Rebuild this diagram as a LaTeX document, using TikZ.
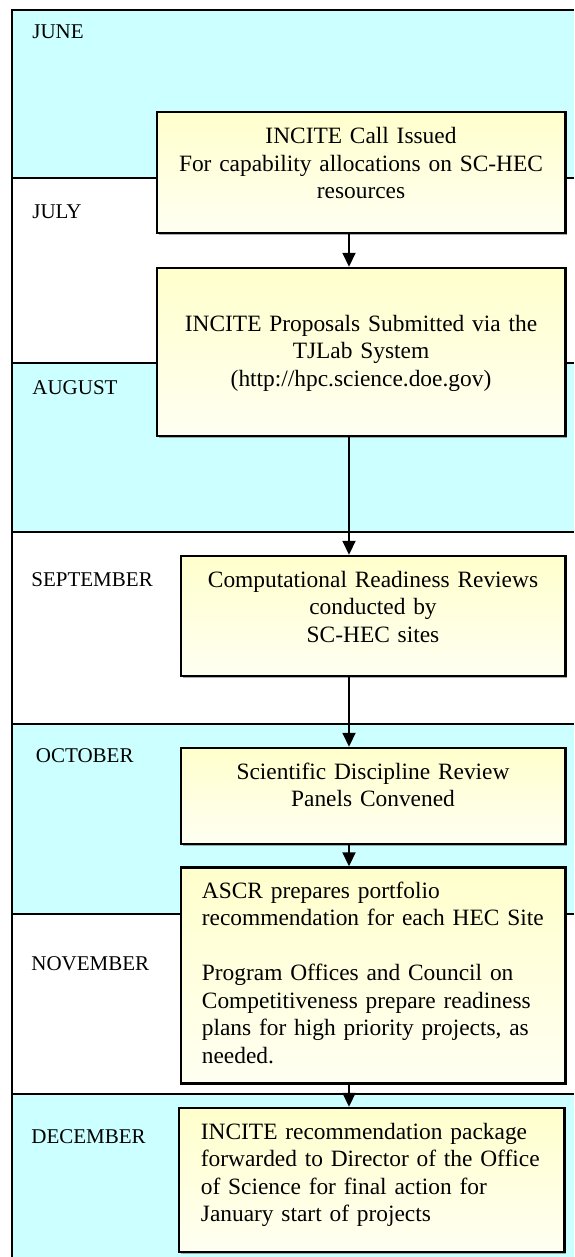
\documentclass[tikz,border=0pt]{standalone}
\usepackage{fontspec}
\setmainfont{Liberation Serif}
\usetikzlibrary{arrows.meta,shadows}
\definecolor{bandcyan}{RGB}{204,255,255}
\definecolor{boxtop}{RGB}{255,255,204}
\definecolor{boxbot}{RGB}{255,255,242}
\tikzset{
  band/.style={fill=bandcyan, draw=none},
  rule/.style={draw=black, line width=1pt},
  stepbox/.style={draw=black, line width=1.2pt, top color=boxtop, bottom color=boxbot,
    inner sep=0pt, drop shadow={shadow xshift=0.8pt, shadow yshift=-0.8pt, fill=black!55, opacity=0.6}},
  boxtext/.style={font=\fontsize{11.7}{13.75}\selectfont, inner sep=0pt, text width=200pt},
  month/.style={font=\fontsize{10.5}{12}\selectfont, anchor=base west, inner sep=0pt},
  arr/.style={draw=black, line width=0.9pt, -{Triangle[length=7pt,width=6.5pt]}},
}
\begin{document}
\begin{tikzpicture}[x=0.5pt, y=-0.5pt]
\useasboundingbox (0,0) rectangle (574,1257);
% month bands
\fill[band] (12,10) rectangle (574,178);
\fill[band] (12,363) rectangle (574,532);
\fill[band] (12,724) rectangle (574,914);
\fill[band] (12,1094) rectangle (574,1257);
\draw[rule] (12,1257) -- (12,10) -- (574,10);
\foreach \yy in {178,363,532,724,914,1094} {\draw[rule] (12,\yy) -- (574,\yy);}
% month labels
\node[month] (jun) at (32,39) {JUNE};
\node[month] (jul) at (32,219) {JULY};
\node[month] (aug) at (32,394) {AUGUST};
\node[month] (sep) at (31,586) {SEPTEMBER};
\node[month] (oct) at (35.5,762) {OCTOBER};
\node[month] (nov) at (31,970) {NOVEMBER};
\node[month] (dec) at (31,1143) {DECEMBER};
% boxes
\node[stepbox, minimum width=204.25pt, minimum height=60.5pt] (b1) at (361.25,172.5) {};
\node[stepbox, minimum width=204.25pt, minimum height=84pt] (b2) at (361.25,352) {};
\node[stepbox, minimum width=192.25pt, minimum height=60pt] (b3) at (373.25,616) {};
\node[stepbox, minimum width=192.25pt, minimum height=48pt] (b4) at (373.25,796) {};
\node[stepbox, minimum width=192.25pt, minimum height=108pt] (b5) at (373.25,975.5) {};
\node[stepbox, minimum width=192.75pt, minimum height=72pt] (b6) at (371.75,1180) {};
% box texts
\node[boxtext, align=center, anchor=base] (t1) at (361,144)
  {INCITE Call Issued\\For capability allocations on SC-HEC\\resources};
\node[boxtext, align=center, anchor=base] (t2) at (361,331)
  {INCITE Proposals Submitted via the\\TJLab System\\(http://hpc.science.doe.gov)};
\node[boxtext, align=center, anchor=base] (t3) at (373,587)
  {Computational Readiness Reviews\\conducted by\\SC-HEC sites};
\node[boxtext, align=center, anchor=base] (t4) at (373,779)
  {Scientific Discipline Review\\Panels Convened};
\node[boxtext, align=left, anchor=base west] (t5) at (201.5,898)
  {ASCR prepares portfolio\\recommendation for each HEC Site\\[13.75pt]Program Offices and Council on\\Competitiveness prepare readiness\\plans for high priority projects, as\\needed.};
\node[boxtext, align=left, anchor=base west] (t6) at (200.5,1139)
  {INCITE recommendation package\\forwarded to Director of the Office\\of Science for final action for\\January start of projects};
% connectors
\coordinate (ax) at (349,0);
\draw[arr] (b1.south -| ax) -- (b2.north -| ax);
\draw[arr] (b2.south -| ax) -- (b3.north -| ax);
\draw[arr] (b3.south -| ax) -- (b4.north -| ax);
\draw[arr] (b4.south -| ax) -- (b5.north -| ax);
\draw[arr] (b5.south -| ax) -- (b6.north -| ax);
\end{tikzpicture}
\end{document}
